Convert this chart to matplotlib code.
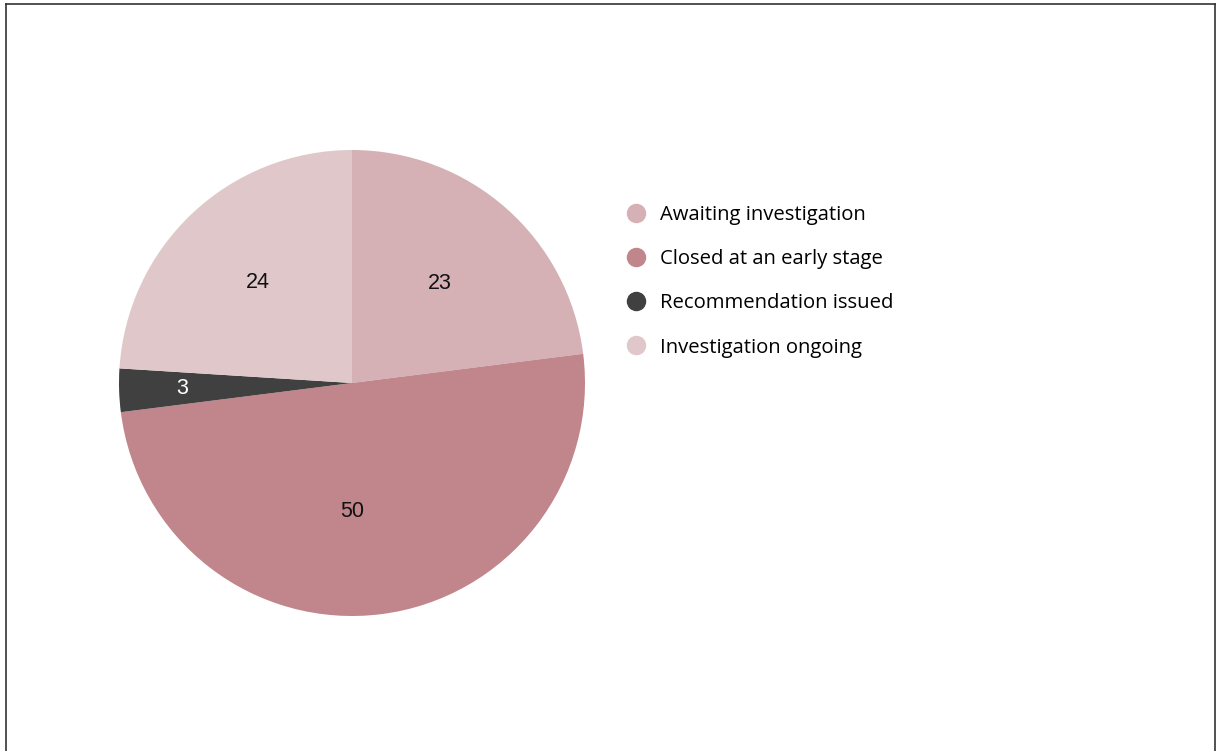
import numpy as np
import matplotlib
matplotlib.use("Agg")
import matplotlib.pyplot as plt
from matplotlib.lines import Line2D

categories = ["Awaiting investigation", "Closed at an early stage",
              "Recommendation issued", "Investigation ongoing"]
values = [23, 50, 3, 24]
colors = ["#d5b0b5", "#c0868c", "#404040", "#e0c8ca"]
label_colors = ["#111111", "#111111", "#ffffff", "#111111"]
label_dist = [0.57, 0.55, 0.73, 0.59]
label_turn = [0, -7.2, 0, 0]  # degrees, nudge the big slice label to the bottom

W, H = 1216, 751
fig = plt.figure(figsize=(W / 100, H / 100), dpi=100)

# pie axes: centre (352, 383), radius 233 px
cx, cy, r = 352, 383, 233
ax = fig.add_axes([(cx - r) / W, (H - cy - r) / H, 2 * r / W, 2 * r / H])
wedges, _ = ax.pie(values, colors=colors, startangle=90, counterclock=False,
                   radius=1, wedgeprops=dict(linewidth=0))
ax.set_xlim(-1, 1)
ax.set_ylim(-1, 1)
ax.set_aspect("equal")
ax.axis("off")

for w, v, c, d, t in zip(wedges, values, label_colors, label_dist, label_turn):
    ang = np.deg2rad((w.theta1 + w.theta2) / 2 + t)
    ax.text(d * np.cos(ang), d * np.sin(ang), str(v), ha="center", va="center",
            fontsize=15.5, color=c, family="Liberation Sans")

# legend
handles = [Line2D([], [], marker="o", linestyle="", markersize=13,
                  markerfacecolor=col, markeredgecolor=col) for col in colors]
fig.legend(handles, categories, loc="upper left",
           bbox_to_anchor=(616 / W, 1 - 195 / H), frameon=False,
           handlelength=1.0, handletextpad=0.65, labelspacing=1.19,
           borderpad=0, prop=dict(family="Open Sans", size=14.6))

# thin frame (left, top, right)
frame_kw = dict(color="#333333", linewidth=1.2, transform=fig.transFigure)
fig.add_artist(Line2D([6 / W, 6 / W], [0, 1 - 4 / H], **frame_kw))
fig.add_artist(Line2D([6 / W, 1215 / W], [1 - 4 / H, 1 - 4 / H], **frame_kw))
fig.add_artist(Line2D([1215 / W, 1215 / W], [0, 1 - 4 / H], **frame_kw))

fig.savefig("out.png", dpi=100)
